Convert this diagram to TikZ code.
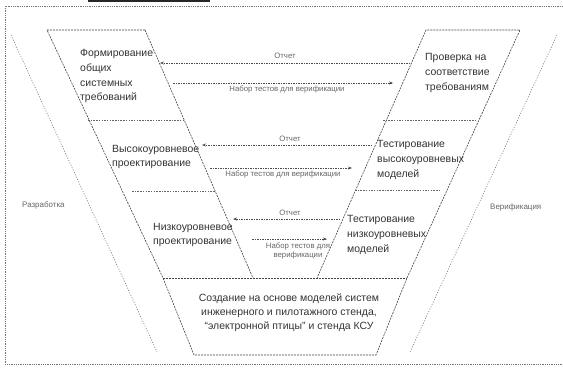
\documentclass[tikz,border=0pt]{standalone}
\usepackage{fontspec}
\setmainfont{Liberation Sans}
\usetikzlibrary{arrows.meta}
\begin{document}
\begin{tikzpicture}[x=1bp,y=-1bp,
  vline/.style={draw=black!75, line width=0.6bp, dash pattern=on 2bp off 1bp},
  outerline/.style={draw=black!55, line width=0.6bp, dash pattern=on 1bp off 1.6bp},
  sepline/.style={draw=black!60, line width=0.5bp, dash pattern=on 1.5bp off 1.2bp},
  frameline/.style={draw=black!55, line width=0.8bp, dash pattern=on 1bp off 0.8bp},
  arr/.style={draw=black!70, line width=0.6bp, dash pattern=on 1.5bp off 1bp, -{Stealth[length=4bp,width=3bp]}},
  coltext/.style={inner sep=0, align=left, text=black!80, font=\fontsize{10.5}{15}\selectfont},
  boxtext/.style={inner sep=0, align=center, text=black!80, font=\fontsize{10.5}{14}\selectfont},
  lbl/.style={inner sep=0, align=center, text=black!60, font=\fontsize{7.8}{9}\selectfont},
  sidetext/.style={inner sep=0, text=black!60, font=\fontsize{8}{9}\selectfont}
]
\useasboundingbox (0,0) rectangle (563,367);

% frame
\coordinate (fa) at (5,364);
\coordinate (fb) at (5,6);
\coordinate (fc) at (563,6);
\coordinate (fd) at (563,364);
\draw[frameline] (fc) -- (fb) -- (fa) -- (fd);
\coordinate (ua) at (88,0.8);
\coordinate (ub) at (210,0.8);
\draw[line width=1.8bp, black!85] (ua) -- (ub);

% outermost dotted lines
\coordinate (oa1) at (11,35);
\coordinate (oa2) at (157,352);
\coordinate (ob1) at (557,35);
\coordinate (ob2) at (410,352);
\draw[outerline] (oa1) -- (oa2);
\draw[outerline] (ob1) -- (ob2);

% V shape
\coordinate (L1) at (47,30);
\coordinate (L2) at (145,30);
\coordinate (R1) at (426,30);
\coordinate (R2) at (520,30);
\coordinate (BL) at (163,278);
\coordinate (BLi) at (253,278);
\coordinate (BRi) at (317,278);
\coordinate (BR) at (407,278);
\coordinate (DL) at (194,355);
\coordinate (DR) at (376,355);
\draw[vline] (L2) -- (L1) -- (BL) -- (DL) -- (DR) -- (BR) -- (R2) -- (R1) -- (BRi);
\draw[vline] (L2) -- (BLi);
\draw[vline] (BL) -- (BR);

% separators
\coordinate (s1a) at (88,120);  \coordinate (s1b) at (183,120);
\coordinate (s2a) at (383,120); \coordinate (s2b) at (477,120);
\coordinate (s3a) at (132,191); \coordinate (s3b) at (215,191);
\coordinate (s4a) at (355,190); \coordinate (s4b) at (440,190);
\draw[sepline] (s1a) -- (s1b);
\draw[sepline] (s2a) -- (s2b);
\draw[sepline] (s3a) -- (s3b);
\draw[sepline] (s4a) -- (s4b);

% column texts
\node[coltext, anchor=west] (t1) at (80,76) {Формирование\\общих\\системных\\требований};
\node[coltext, anchor=west] (t2) at (425,73) {Проверка на\\соответствие\\требованиям};
\node[coltext, anchor=west] (t3) at (112,157) {Высокоуровневое\\проектирование};
\node[coltext, anchor=west] (t4) at (377,160) {Тестирование\\высокоуровневых\\моделей};
\node[coltext, anchor=west] (t5) at (153,235) {Низкоуровневое\\проектирование};
\node[coltext, anchor=west] (t6) at (347,235) {Тестирование\\низкоуровневых\\моделей};
\node[boxtext] (t7) at (289,313) {Создание на основе моделей систем\\инженерного и пилотажного стенда,\\\char"201Cэлектронной птицы\char"201D{} и стенда КСУ};

% side labels
\node[sidetext, anchor=west] (sl) at (22,205) {Разработка};
\node[sidetext, anchor=west] (sr) at (490,207) {Верификация};

% arrows row 1
\coordinate (a1s) at (410,63); \coordinate (a1e) at (160,63);
\coordinate (b1s) at (173,83); \coordinate (b1e) at (393,83);
\draw[arr] (a1s) -- (a1e);
\draw[arr] (b1s) -- (b1e);
\node[lbl] (la1) at (285,56) {Отчет};
\node[lbl] (lb1) at (287,89) {Набор тестов для верификации};
% row 2
\coordinate (a2s) at (372,145); \coordinate (a2e) at (202,145);
\coordinate (b2s) at (210,168); \coordinate (b2e) at (352,168);
\draw[arr] (a2s) -- (a2e);
\draw[arr] (b2s) -- (b2e);
\node[lbl] (la2) at (290,139) {Отчет};
\node[lbl] (lb2) at (283,174) {Набор тестов для верификации};
% row 3
\coordinate (a3s) at (340,219); \coordinate (a3e) at (233,219);
\coordinate (b3s) at (252,239); \coordinate (b3e) at (327,239);
\draw[arr] (a3s) -- (a3e);
\draw[arr] (b3s) -- (b3e);
\node[lbl] (la3) at (290,213) {Отчет};
\node[lbl] (lb3) at (298,251) {Набор тестов для\\верификации};
\end{tikzpicture}
\end{document}
